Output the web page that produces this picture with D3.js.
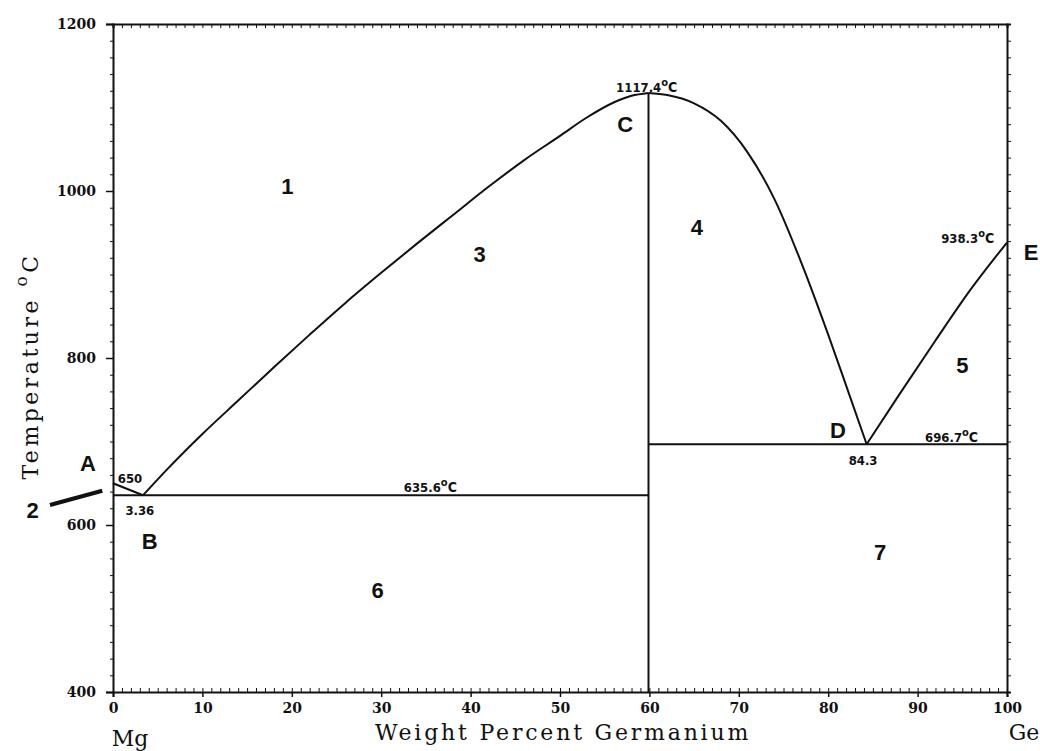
<!DOCTYPE html>
<html>
<head>
<meta charset="utf-8">
<script src="https://cdn.jsdelivr.net/npm/d3@7"></script>
<style>
  body { margin: 0; background: #fff; }
  svg { display: block; }
  .axis path, .axis line { stroke: #111; }
  .axis text { font-family: "DejaVu Serif", serif; font-weight: bold; font-size: 14px; fill: #111; }
  .region { font-family: "Liberation Sans", Arial, sans-serif; font-weight: bold; font-size: 22px; fill: #111; }
  .note { font-family: "DejaVu Sans Condensed", "DejaVu Sans", sans-serif; font-weight: bold; font-size: 13px; fill: #111; }
  .title { font-family: "DejaVu Serif", serif; font-size: 22px; fill: #111; }
</style>
</head>
<body>
<div id="chart"></div>
<script>
// liquidus and invariant lines, [wt% Ge, temperature]
const liquidusAB = [[0, 650], [3.36, 635.6]];
const liquidusBC = [
  [3.36, 635.6], [6, 666], [10, 709], [14, 749], [18, 789], [22, 828], [26, 866],
  [30, 902], [34, 937], [38, 971], [42, 1005], [46, 1037], [50, 1066], [53, 1088],
  [56, 1106], [58, 1114], [59.9, 1117.4]
];
const liquidusCD = [
  [59.9, 1117.4], [62, 1115], [65, 1105], [68, 1084], [71, 1046], [74, 990],
  [77, 914], [80, 828], [82.3, 758], [84.3, 696.7]
];
const liquidusDE = [[84.3, 696.7], [88, 757], [92, 821], [96, 883], [100, 938.3]];
const eutecticMg = [[0, 635.6], [59.9, 635.6]];
const eutecticGe = [[59.9, 696.7], [100, 696.7]];
const compound = [[59.9, 400], [59.9, 1117.4]];
const pointer2 = [[-7.05, 624], [-1.2, 641]];

const xTicks = d3.range(0, 101, 10);
const yTicks = d3.range(400, 1201, 200);

// text on the diagram: [x, T, text]
const regionLabels = [
  [19.5, 996, "1"], [41, 915, "3"], [65.3, 947, "4"], [95, 782, "5"],
  [29.6, 512, "6"], [85.8, 558, "7"],
  [-2.8, 665, "A"], [4.1, 571, "B"], [57.3, 1071, "C"], [81.1, 704, "D"], [102.7, 917, "E"],
  [-9, 608, "2"]
];
const notes = [
  [59.7, 1119, "1117.4", "°C"], [1.9, 650, "650", ""], [3.0, 612, "3.36", ""],
  [35.5, 640, "635.6", "°C"], [95.6, 938, "938.3", "°C"], [83.9, 672, "84.3", ""],
  [93.8, 700, "696.7", "°C"]
];

const width = 1040, height = 751;
const margin = { top: 24, right: 33, bottom: 59, left: 113 };

const x = d3.scaleLinear().domain([0, 100]).range([margin.left, width - margin.right]);
const y = d3.scaleLinear().domain([400, 1200]).range([height - margin.bottom, margin.top]);

const svg = d3.select("#chart").append("svg").attr("width", width).attr("height", height);

// axes: major ticks outside with labels, minor ticks inside
const minorX = d3.range(0, 101, 1);
const minorY = d3.range(400, 1201, 20);

svg.append("g").attr("class", "axis")
  .attr("transform", `translate(0,${y(400)})`)
  .call(d3.axisBottom(x).tickValues(xTicks).tickSize(5).tickPadding(6).tickFormat(d3.format("d")))
  .call((g) => g.select(".domain").attr("stroke-width", 2))
  .call((g) => g.selectAll(".tick line").attr("stroke-width", 1.5));
svg.append("g").attr("class", "axis")
  .attr("transform", `translate(0,${y(400)})`)
  .call(d3.axisBottom(x).tickValues(minorX).tickSize(-4).tickFormat(""))
  .call((g) => g.select(".domain").remove());

svg.append("g").attr("class", "axis")
  .attr("transform", `translate(${x(0)},0)`)
  .call(d3.axisLeft(y).tickValues(yTicks).tickSize(7).tickPadding(10).tickFormat(d3.format("d")))
  .call((g) => g.select(".domain").attr("stroke-width", 2))
  .call((g) => g.selectAll(".tick line").attr("stroke-width", 1.5));
svg.append("g").attr("class", "axis")
  .attr("transform", `translate(${x(0)},0)`)
  .call(d3.axisLeft(y).tickValues(minorY).tickSize(3).tickFormat(""))
  .call((g) => g.select(".domain").remove());

svg.append("g").attr("class", "axis")
  .attr("transform", `translate(0,${y(1200)})`)
  .call(d3.axisTop(x).tickValues(minorX).tickSize(-4).tickFormat(""))
  .call((g) => g.select(".domain").attr("stroke-width", 2));
svg.append("g").attr("class", "axis")
  .attr("transform", `translate(${x(100)},0)`)
  .call(d3.axisRight(y).tickValues(minorY).tickSize(4).tickFormat(""))
  .call((g) => g.select(".domain").attr("stroke-width", 2));

// axis titles
svg.append("text").attr("class", "title").style("letter-spacing", "2.8px")
  .attr("x", 563).attr("y", 740).attr("text-anchor", "middle")
  .text("Weight Percent Germanium");
svg.append("text").attr("class", "title")
  .attr("x", 130).attr("y", 746).attr("text-anchor", "middle").text("Mg");
svg.append("text").attr("class", "title")
  .attr("x", 1024).attr("y", 740).attr("text-anchor", "middle").text("Ge");

const yTitle = svg.append("text").attr("class", "title").style("letter-spacing", "3.5px")
  .attr("transform", `translate(38,366) rotate(-90)`)
  .attr("text-anchor", "middle");
yTitle.append("tspan").text("Temperature ");
yTitle.append("tspan").attr("dy", -11).style("font-size", "17px").text("o");
yTitle.append("tspan").attr("dy", 11).text("C");

// phase boundaries
const line = d3.line().x((d) => x(d[0])).y((d) => y(d[1]));
const smooth = d3.line().x((d) => x(d[0])).y((d) => y(d[1])).curve(d3.curveMonotoneX);

const gLines = svg.append("g").attr("fill", "none").attr("stroke", "#111").attr("stroke-width", 2);
[liquidusAB, eutecticMg, eutecticGe, compound].forEach((d) => gLines.append("path").attr("d", line(d)));
[liquidusBC, liquidusCD, liquidusDE].forEach((d) => gLines.append("path").attr("d", smooth(d)));

// pointer for region 2
gLines.append("path").attr("d", line(pointer2)).attr("stroke-width", 4);

svg.append("g").selectAll("text")
  .data(regionLabels)
  .join("text")
  .attr("class", "region")
  .attr("x", (d) => x(d[0]))
  .attr("y", (d) => y(d[1]))
  .attr("text-anchor", "middle")
  .text((d) => d[2]);

svg.append("g").selectAll("text")
  .data(notes)
  .join("text")
  .attr("class", "note")
  .attr("x", (d) => x(d[0]))
  .attr("y", (d) => y(d[1]))
  .attr("text-anchor", "middle")
  .each(function (d) {
    const t = d3.select(this);
    t.append("tspan").text(d[2]);
    if (d[3]) {
      t.append("tspan").attr("dy", -6).style("font-size", "11px").text("o");
      t.append("tspan").attr("dy", 6).style("font-size", "14px").text("C");
    }
  });
</script>
</body>
</html>
